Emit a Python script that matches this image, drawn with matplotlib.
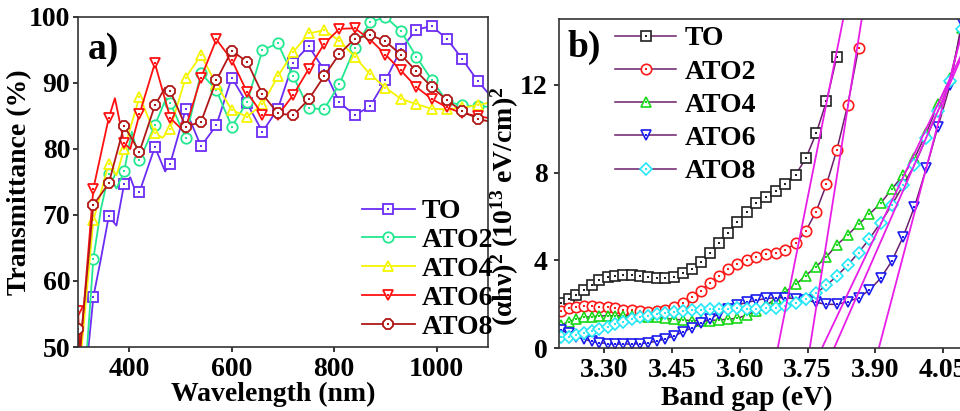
import numpy as np
import matplotlib.pyplot as plt

# Fonts: Times-like bold everywhere
plt.rcParams['font.family'] = 'Liberation Serif'
plt.rcParams['font.weight'] = 'bold'
plt.rcParams['mathtext.fontset'] = 'custom'
plt.rcParams['mathtext.rm'] = 'Liberation Serif:bold'
plt.rcParams['mathtext.it'] = 'Liberation Serif:bold'
plt.rcParams['mathtext.bf'] = 'Liberation Serif:bold'
plt.rcParams['axes.linewidth'] = 1.2
plt.rcParams['axes.edgecolor'] = '#333333'
for a in ('xtick', 'ytick'):
    plt.rcParams[a + '.direction'] = 'out'
    plt.rcParams[a + '.major.size'] = 3.5
    plt.rcParams[a + '.major.width'] = 1.1
    plt.rcParams[a + '.labelsize'] = 20

# ---- panel a: transmittance spectra ----
labels = ['TO', 'ATO2', 'ATO4', 'ATO6', 'ATO8']

wl_to = [318, 330, 345, 360, 375, 390, 402, 415, 420, 450, 470, 480, 510, 540, 570, 600, 630, 660,
         690, 720, 750, 780, 810, 840, 870, 900, 930, 960, 990, 1020, 1050, 1080, 1100]
t_to = [48, 57.6, 63.5, 69.8, 68.4, 74.7, 75.7, 73.0, 73.5, 80.3, 76.6, 77.8, 86.0, 80.4, 83.6, 90.8,
        86.9, 82.6, 86.1, 93.1, 95.6, 92.0, 87.1, 85.1, 86.5, 90.4, 95.1, 98.1, 98.6, 96.7, 93.6, 90.3, 88.5]

wl_ato2 = [316, 330, 345, 360, 375, 390, 405, 420, 450, 472, 480, 510, 540, 570, 600, 630, 660, 690,
           720, 750, 780, 810, 840, 870, 900, 930, 960, 990, 1020, 1050, 1080, 1100]
t_ato2 = [48, 63.4, 71.0, 76.2, 74.0, 76.6, 82.6, 78.3, 83.6, 87.7, 87.0, 81.7, 91.5, 88.9, 83.4, 87.1,
          95.0, 96.0, 91.0, 86.2, 86.0, 89.8, 95.3, 99.2, 100.0, 97.9, 94.0, 90.5, 87.2, 86.6, 86.5, 86.4]

wl_ato4 = [306, 330, 360, 375, 390, 420, 450, 465, 480, 510, 540, 570, 600, 630, 660, 690, 720, 750,
           780, 810, 840, 870, 900, 930, 960, 990, 1020, 1050, 1080, 1100]
t_ato4 = [49, 69.2, 77.8, 76.0, 80.0, 87.9, 82.4, 81.7, 83.1, 90.8, 94.2, 89.8, 85.9, 84.9, 86.8, 91.0,
          94.7, 97.5, 98.0, 96.4, 94.0, 91.3, 89.3, 87.6, 86.8, 86.1, 86.0, 86.3, 86.6, 87.0]

wl_ato6 = [300, 304, 330, 360, 372, 390, 402, 420, 450, 480, 505, 510, 540, 570, 600, 630, 660, 690,
           720, 750, 780, 810, 840, 870, 900, 930, 960, 990, 1020, 1050, 1080, 1100]
t_ato6 = [55.5, 49, 74.0, 84.7, 87.7, 80.9, 80.0, 85.3, 93.0, 84.7, 82.8, 83.2, 90.8, 96.6, 93.5, 88.6,
          85.2, 85.1, 88.2, 92.1, 95.9, 98.2, 98.3, 96.6, 94.3, 91.9, 89.4, 87.6, 86.3, 85.4, 85.0, 84.7]

wl_ato8 = [300, 303, 330, 360, 390, 420, 450, 470, 480, 510, 540, 570, 600, 630, 660, 690, 720, 750,
           780, 810, 840, 870, 900, 930, 960, 990, 1020, 1050, 1080, 1100]
t_ato8 = [52.8, 49, 71.5, 74.8, 83.5, 79.6, 86.6, 89.3, 88.8, 83.4, 84.1, 90.4, 94.9, 93.2, 88.3, 85.4,
          85.1, 87.5, 91.0, 94.4, 96.7, 97.3, 96.3, 94.3, 91.8, 89.4, 87.4, 85.7, 84.6, 84.2]

colors_a = ['#6b2cf5', '#22e890', '#f5f500', '#ff1010', '#b01818']
markers_a = ['s', 'o', '^', 'v', '8']

# ---- panel b: Tauc plot ----
energy = [3.204, 3.221, 3.238, 3.255, 3.272, 3.289, 3.307, 3.324, 3.342, 3.360, 3.379, 3.397, 3.416,
          3.435, 3.454, 3.473, 3.493, 3.513, 3.533, 3.553, 3.573, 3.594, 3.615, 3.636, 3.658, 3.680,
          3.701, 3.724, 3.746, 3.769, 3.792, 3.815, 3.839, 3.863, 3.887, 3.912, 3.937, 3.962, 3.987,
          4.013, 4.039, 4.066, 4.092]

ah_to = [2.04, 2.22, 2.42, 2.64, 2.87, 3.10, 3.22, 3.30, 3.33, 3.33, 3.28, 3.22, 3.18, 3.18, 3.25,
         3.40, 3.60, 3.94, 4.35, 4.80, 5.26, 5.76, 6.22, 6.60, 6.90, 7.16, 7.46, 7.91, 8.64, 9.78,
         11.25, 13.28]
ah_ato2 = [1.70, 1.84, 1.88, 1.91, 1.92, 1.89, 1.86, 1.81, 1.75, 1.71, 1.67, 1.66, 1.69, 1.75, 1.87,
           2.07, 2.33, 2.62, 2.95, 3.30, 3.60, 3.83, 4.01, 4.16, 4.28, 4.35, 4.47, 4.77, 5.33, 6.22,
           7.46, 9.03, 11.08, 13.66]
ah_ato4 = [1.05, 1.20, 1.31, 1.40, 1.43, 1.46, 1.47, 1.47, 1.47, 1.46, 1.46, 1.43, 1.40, 1.35, 1.31,
           1.28, 1.25, 1.25, 1.25, 1.28, 1.31, 1.35, 1.50, 1.70, 1.95, 2.25, 2.57, 2.90, 3.30, 3.71,
           4.16, 4.70, 5.15, 5.64, 6.10, 6.60, 7.25, 7.89, 8.65, 9.79, 11.11, 12.30, 14.58]
ah_ato6 = [0.80, 0.67, 0.52, 0.40, 0.30, 0.24, 0.20, 0.18, 0.18, 0.18, 0.20, 0.24, 0.31, 0.42, 0.56,
           0.72, 0.92, 1.12, 1.33, 1.55, 1.77, 1.95, 2.08, 2.17, 2.26, 2.29, 2.29, 2.25, 2.19, 2.08,
           1.99, 1.99, 2.11, 2.29, 2.64, 3.18, 3.97, 5.08, 6.44, 8.19, 10.09, 11.99, 14.88]
ah_ato8 = [0.52, 0.50, 0.58, 0.68, 0.78, 0.88, 0.98, 1.08, 1.20, 1.30, 1.40, 1.48, 1.55, 1.60, 1.66,
           1.70, 1.72, 1.75, 1.76, 1.77, 1.79, 1.81, 1.78, 1.78, 1.81, 1.82, 1.90, 2.05, 2.22, 2.50,
           2.86, 3.28, 3.78, 4.35, 4.97, 5.72, 6.53, 7.42, 8.35, 9.58, 10.80, 12.16, 14.56]

# linear fits: x-intercept (band gap) and slope
fit_eg = [3.684, 3.755, 3.782, 3.908, 3.809]
fit_slope = [103.4, 130.4, 43.3, 78.0, 47.0]

colors_b = ['#202020', '#ff1a1a', '#18d818', '#1a1aee', '#22e8f8']
markers_b = ['s', 'o', '^', 'v', 'D']
line_b = '#6a1f6a'

fig = plt.figure(figsize=(9.6, 4.11), dpi=100)
ax_a = fig.add_axes([78 / 960, 64 / 411, 410 / 960, 330 / 411])
ax_b = fig.add_axes([559.3 / 960, 63 / 411, 406.2 / 960, 329 / 411])

handles_a = []
series_a = [(wl_to, t_to), (wl_ato2, t_ato2), (wl_ato4, t_ato4), (wl_ato6, t_ato6), (wl_ato8, t_ato8)]
for (wl, t), c, m in zip(series_a, colors_a, markers_a):
    wl = np.array(wl)
    t = np.array(t)
    mk = ((wl - 300) % 30 == 0) & (wl <= 1080)
    ln, = ax_a.plot(wl, t, color=c, lw=1.3, marker=m, markevery=list(mk), ms=7.5,
                    mfc='white', mec=c, mew=1.3)
    dot, = ax_a.plot(wl[mk], t[mk], ls='none', marker='s', ms=1.6, color=c, mew=0)
    handles_a.append((ln, dot))

ax_a.set_xlim(300, 1100)
ax_a.set_ylim(50, 100)
ax_a.set_xticks([400, 600, 800, 1000])
ax_a.set_yticks([50, 60, 70, 80, 90, 100])
ax_a.tick_params(axis='x', pad=4)
ax_a.tick_params(axis='y', pad=2)
ax_a.set_xlabel('Wavelength (nm)', fontsize=20, fontweight='bold')
ax_a.set_ylabel('Transmittance (%)', fontsize=20, fontweight='bold')
ax_a.xaxis.set_label_coords(0.476, -0.105)
ax_a.yaxis.set_label_coords(-0.113, 0.5)
ax_a.text(0.024, 0.955, 'a)', transform=ax_a.transAxes, fontsize=27, fontweight='bold',
          va='top', ha='left')
ax_a.legend(handles_a, labels, loc='upper left', bbox_to_anchor=(362 / 960, 1 - 199 / 411),
            bbox_transform=fig.transFigure, frameon=False, borderpad=0, borderaxespad=0,
            handlelength=1.9, handletextpad=0.25, labelspacing=0.12, fontsize=20)

handles_b = []
series_b = [ah_to, ah_ato2, ah_ato4, ah_ato6, ah_ato8]
for vals, c, m in zip(series_b, colors_b, markers_b):
    e = np.array(energy[:len(vals)])
    v = np.array(vals)
    ms = 6.5 if m == 'D' else 7.5
    ln, = ax_b.plot(e, v, color=line_b, lw=1.1, marker=m, ms=ms, mfc='white', mec=c, mew=1.2)
    dot, = ax_b.plot(e, v, ls='none', marker='s', ms=1.5, color=c, mew=0)
    handles_b.append((ln, dot))

for eg, k in zip(fit_eg, fit_slope):
    e_end = eg + 16 / k
    ax_b.plot([eg, e_end], [0, k * (e_end - eg)], color='#e81ee8', lw=1.3)

ax_b.set_xlim(3.2, 4.1)
ax_b.set_ylim(0, 15)
ax_b.set_xticks([3.30, 3.45, 3.60, 3.75, 3.90, 4.05])
ax_b.set_xticklabels(['3.30', '3.45', '3.60', '3.75', '3.90', '4.05'])
ax_b.set_yticks([0, 4, 8, 12])
ax_b.tick_params(axis='x', pad=4)
ax_b.tick_params(axis='y', pad=5)
ax_b.set_xlabel('Band gap (eV)', fontsize=20, fontweight='bold')
ax_b.set_ylabel('(αhν)$^2$ (10$^{13}$ eV/cm)$^2$', fontsize=20, fontweight='bold')
ax_b.xaxis.set_label_coords(0.462, -0.115)
ax_b.yaxis.set_label_coords(-0.094, 0.43)
ax_b.text(0.019, 0.967, 'b)', transform=ax_b.transAxes, fontsize=27, fontweight='bold',
          va='top', ha='left')
ax_b.legend(handles_b, labels, loc='upper left', bbox_to_anchor=(615 / 960, 1 - 26 / 411),
            bbox_transform=fig.transFigure, frameon=False, borderpad=0, borderaxespad=0,
            handlelength=2.2, handletextpad=0.3, labelspacing=0.28, fontsize=20)

fig.savefig('out.png', dpi=100)
